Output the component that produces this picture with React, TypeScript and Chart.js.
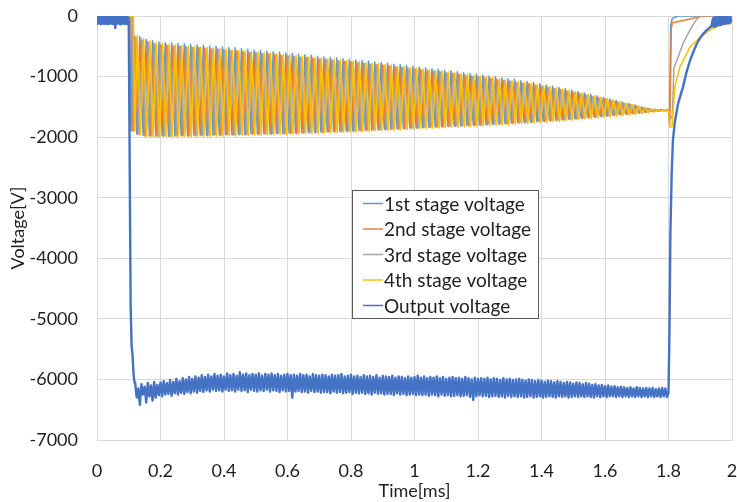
import React, { useEffect, useRef } from 'react';
import { Chart, registerables } from 'chart.js';

Chart.register(...registerables);

// ---------- labels ----------
const seriesNames = ['1st stage voltage', '2nd stage voltage', '3rd stage voltage', '4th stage voltage', 'Output voltage'];
const seriesColors = ['#5B9BD5', '#ED7D31', '#A5A5A5', '#FFC000', '#4472C4'];
const xTitle = 'Time[ms]';
const yTitle = 'Voltage[V]';
const xMin = 0, xMax = 2, xStep = 0.2;
const yMin = -7000, yMax = 0, yStep = 1000;

// ---------- stage oscillation (one peak + one trough per 0.02 ms cycle) ----------
const firstPeakT = 0.115;
const cyclePeriod = 0.02;
const stagePhase = [0, 0.004, 0.008, 0.012];
const stageStartT = [0, 0.103, 0.107];
const stageStartV = [0, 0, -1900];
const stageCutT = 1.8;

const peaks1 = [
  -300, -340, -390, -410, -430, -440, -445, -455, -460, -470,
  -480, -485, -495, -500, -510, -520, -525, -540, -550, -560,
  -570, -580, -590, -600, -610, -620, -630, -640, -650, -665,
  -675, -685, -695, -705, -715, -725, -735, -745, -760, -770,
  -780, -795, -805, -820, -830, -845, -855, -870, -880, -895,
  -905, -920, -935, -950, -960, -975, -990, -1005, -1020, -1035,
  -1050, -1070, -1085, -1100, -1120, -1140, -1160, -1180, -1200, -1225,
  -1250, -1270, -1295, -1320, -1345, -1370, -1395, -1420, -1445, -1470,
  -1500, -1525, -1540, -1545, -1550,
];
const peaks2 = [
  -330, -380, -420, -450, -470, -480, -490, -495, -505, -515,
  -520, -530, -540, -545, -555, -565, -575, -585, -595, -605,
  -615, -625, -635, -645, -655, -665, -675, -685, -695, -705,
  -715, -725, -735, -745, -755, -765, -775, -790, -800, -810,
  -820, -835, -845, -860, -870, -885, -895, -910, -920, -935,
  -945, -960, -975, -990, -1000, -1015, -1030, -1045, -1060, -1075,
  -1090, -1105, -1120, -1140, -1160, -1175, -1195, -1215, -1235, -1255,
  -1280, -1300, -1325, -1350, -1370, -1395, -1420, -1445, -1465, -1490,
  -1515, -1535, -1545, -1550, -1553,
];
const peaks3 = [
  -350, -400, -440, -465, -480, -490, -500, -505, -515, -525,
  -530, -540, -550, -555, -565, -575, -585, -595, -605, -615,
  -625, -635, -645, -655, -665, -675, -685, -695, -705, -715,
  -725, -735, -745, -755, -765, -775, -790, -800, -810, -820,
  -830, -845, -855, -870, -880, -895, -905, -920, -930, -945,
  -955, -970, -985, -1000, -1010, -1025, -1040, -1055, -1070, -1085,
  -1100, -1115, -1130, -1150, -1170, -1185, -1205, -1225, -1245, -1265,
  -1290, -1310, -1335, -1360, -1380, -1405, -1430, -1450, -1470, -1495,
  -1520, -1538, -1547, -1551, -1554,
];
const peaks4 = [
  -320, -370, -410, -440, -460, -470, -480, -490, -495, -505,
  -515, -520, -530, -540, -550, -560, -565, -575, -585, -595,
  -605, -615, -625, -635, -645, -655, -665, -675, -685, -695,
  -705, -715, -725, -735, -745, -755, -770, -780, -790, -800,
  -810, -825, -835, -850, -860, -875, -885, -900, -910, -925,
  -935, -950, -965, -980, -990, -1005, -1020, -1035, -1050, -1065,
  -1080, -1095, -1110, -1130, -1150, -1165, -1185, -1205, -1225, -1245,
  -1270, -1290, -1315, -1340, -1360, -1385, -1410, -1435, -1460, -1485,
  -1510, -1530, -1542, -1548, -1552,
];
const troughs1 = [
  -1950, -1970, -1975, -1980, -1975, -1980, -1975, -1970, -1975, -1970,
  -1965, -1970, -1960, -1965, -1955, -1960, -1950, -1955, -1945, -1950,
  -1940, -1945, -1935, -1940, -1930, -1930, -1925, -1920, -1920, -1915,
  -1910, -1905, -1905, -1900, -1895, -1890, -1885, -1880, -1875, -1870,
  -1865, -1860, -1855, -1850, -1845, -1840, -1835, -1830, -1825, -1820,
  -1815, -1810, -1805, -1800, -1795, -1790, -1785, -1780, -1775, -1765,
  -1760, -1755, -1750, -1740, -1735, -1725, -1720, -1710, -1700, -1695,
  -1685, -1675, -1665, -1655, -1645, -1635, -1625, -1615, -1605, -1595,
  -1585, -1575, -1568, -1563, -1560,
];
const troughs2 = [
  -1960, -1980, -1985, -1990, -1985, -1990, -1985, -1980, -1985, -1980,
  -1975, -1980, -1970, -1975, -1965, -1970, -1960, -1965, -1955, -1960,
  -1950, -1955, -1945, -1950, -1940, -1940, -1935, -1930, -1930, -1925,
  -1920, -1915, -1915, -1910, -1905, -1900, -1895, -1890, -1885, -1880,
  -1875, -1870, -1865, -1860, -1855, -1850, -1845, -1840, -1835, -1830,
  -1825, -1820, -1815, -1810, -1805, -1800, -1795, -1790, -1785, -1775,
  -1770, -1765, -1760, -1750, -1745, -1735, -1730, -1720, -1710, -1705,
  -1695, -1685, -1675, -1665, -1655, -1645, -1635, -1625, -1615, -1605,
  -1592, -1580, -1570, -1565, -1562,
];
const troughs3 = [
  -1945, -1965, -1970, -1975, -1970, -1975, -1970, -1965, -1970, -1965,
  -1960, -1965, -1955, -1960, -1950, -1955, -1945, -1950, -1940, -1945,
  -1935, -1940, -1930, -1935, -1925, -1925, -1920, -1915, -1915, -1910,
  -1905, -1900, -1900, -1895, -1890, -1885, -1880, -1875, -1870, -1865,
  -1860, -1855, -1850, -1845, -1840, -1835, -1830, -1825, -1820, -1815,
  -1810, -1805, -1800, -1795, -1790, -1785, -1780, -1775, -1770, -1760,
  -1755, -1750, -1745, -1735, -1730, -1720, -1715, -1705, -1695, -1690,
  -1680, -1670, -1660, -1650, -1640, -1630, -1620, -1610, -1600, -1590,
  -1580, -1572, -1566, -1562, -1559,
];
const troughs4 = [
  -1970, -1990, -1995, -2000, -1995, -2000, -1995, -1990, -1995, -1990,
  -1985, -1990, -1980, -1985, -1975, -1980, -1970, -1975, -1965, -1970,
  -1960, -1965, -1955, -1960, -1950, -1950, -1945, -1940, -1940, -1935,
  -1930, -1925, -1925, -1920, -1915, -1910, -1905, -1900, -1895, -1890,
  -1885, -1880, -1875, -1870, -1865, -1860, -1855, -1850, -1845, -1840,
  -1835, -1830, -1825, -1820, -1815, -1810, -1805, -1800, -1795, -1785,
  -1780, -1775, -1770, -1760, -1755, -1745, -1740, -1730, -1720, -1715,
  -1705, -1695, -1685, -1675, -1665, -1655, -1645, -1635, -1625, -1615,
  -1600, -1585, -1574, -1567, -1563,
];

// ---------- stage recovery after 1.8 ms ----------
const end1T = [1.8, 1.803, 1.807, 1.812, 1.83, 2];
const end1V = [-1560, -1750, -150, -40, 0, 0];
const end2T = [1.8, 1.804, 1.809, 1.812, 1.85, 1.9, 2];
const end2V = [-1560, -1800, -200, -110, -70, -10, 0];
const end3T = [1.8, 1.806, 1.812, 1.817, 1.83, 1.846, 1.868, 1.885, 1.9, 2];
const end3V = [-1560, -1700, -1650, -860, -680, -450, -230, -80, 0, 0];
const end4T = [1.8, 1.804, 1.811, 1.82, 1.836, 1.868, 1.9, 1.931, 1.962, 2];
const end4V = [-1560, -1830, -1830, -1170, -840, -510, -350, -230, -150, -115];

// ---------- output voltage ----------
const preStartT = 0, preStep = 0.005;
const preUpper = [-10, -20, -10, -15, -20, -10, -15, -10, -20, -10, -15, -20, -10, -10, -15, -20, -10, -15, -10, -20];
const preLower = [-130, -120, -135, -125, -130, -120, -135, -130, -125, -130, -135, -200, -130, -120, -135, -125, -130, -120, -135, -130];
const dropT = [0.1, 0.103, 0.106, 0.109, 0.112, 0.115, 0.118];
const dropV = [-80, -2500, -4800, -5450, -5600, -5900, -6050];
const bandStartT = 0.12, bandStep = 0.01;
const bandUpper = [
  -6050, -6150, -6080, -6120, -6060, -6100, -6040, -6090, -6050, -6030,
  -6060, -6010, -6040, -5990, -6030, -5980, -6000, -5960, -5990, -5950,
  -5970, -5930, -5960, -5920, -5950, -5910, -5940, -5920, -5950, -5900,
  -5930, -5910, -5940, -5880, -5920, -5900, -5930, -5910, -5920, -5900,
  -5940, -5910, -5920, -5900, -5930, -5910, -5940, -5920, -5910, -5930,
  -5920, -5940, -5910, -5930, -5920, -5950, -5910, -5930, -5940, -5920,
  -5930, -5950, -5920, -5940, -5930, -5910, -5950, -5940, -5920, -5950,
  -5940, -5960, -5930, -5950, -5940, -5960, -5930, -5970, -5940, -5950,
  -5960, -5940, -5970, -5950, -5960, -5980, -5950, -5970, -5960, -5940,
  -5970, -5950, -5980, -5960, -5970, -5950, -5980, -5960, -5990, -5970,
  -5960, -5980, -5970, -5990, -5960, -5980, -6000, -5970, -5990, -5980,
  -5990, -5970, -6000, -5980, -5990, -6010, -5980, -6000, -5990, -6010,
  -6000, -5990, -6010, -6020, -6000, -6010, -6030, -6010, -6020, -6040,
  -6020, -6030, -6050, -6030, -6040, -6060, -6040, -6050, -6070, -6050,
  -6060, -6080, -6060, -6070, -6090, -6080, -6100, -6090, -6110, -6100,
  -6120, -6110, -6130, -6120, -6130, -6140, -6130, -6150, -6130, -6140,
  -6150, -6140, -6150, -6140, -6160, -6150, -6140, -6150,
];
const bandLower = [
  -6300, -6420, -6250, -6380, -6280, -6350, -6300, -6260, -6280, -6250,
  -6240, -6270, -6230, -6250, -6220, -6240, -6210, -6230, -6200, -6220,
  -6190, -6210, -6180, -6200, -6170, -6190, -6180, -6200, -6170, -6190,
  -6180, -6200, -6170, -6190, -6180, -6210, -6170, -6190, -6200, -6180,
  -6190, -6170, -6200, -6180, -6190, -6210, -6180, -6200, -6190, -6300,
  -6200, -6190, -6210, -6200, -6220, -6190, -6210, -6200, -6220, -6210,
  -6210, -6230, -6200, -6220, -6210, -6230, -6220, -6210, -6240, -6220,
  -6230, -6220, -6240, -6230, -6250, -6220, -6240, -6230, -6250, -6240,
  -6240, -6260, -6230, -6250, -6240, -6260, -6250, -6240, -6260, -6250,
  -6260, -6250, -6270, -6250, -6260, -6280, -6250, -6270, -6260, -6280,
  -6270, -6260, -6280, -6270, -6260, -6290, -6340, -6280, -6260, -6280,
  -6270, -6290, -6280, -6270, -6290, -6280, -6300, -6270, -6290, -6280,
  -6290, -6280, -6300, -6290, -6280, -6300, -6290, -6280, -6300, -6290,
  -6280, -6290, -6300, -6280, -6290, -6280, -6300, -6290, -6280, -6290,
  -6280, -6290, -6280, -6290, -6300, -6280, -6290, -6280, -6290, -6280,
  -6280, -6290, -6280, -6290, -6280, -6290, -6280, -6290, -6280, -6290,
  -6280, -6290, -6280, -6290, -6280, -6290, -6280, -6290,
];
const riseT = [1.8, 1.803, 1.806, 1.81, 1.814, 1.82, 1.83, 1.84, 1.846, 1.855, 1.868, 1.88, 1.89, 1.9, 1.91, 1.921, 1.935];
const riseV = [-6220, -5200, -3600, -2600, -2050, -1750, -1450, -1270, -1170, -960, -730, -570, -450, -360, -290, -230, -170];
const postStartT = 1.94, postStep = 0.005;
const postUpper = [-40, -20, -30, -10, -20, -15, -10, -20, -10, -15, -10, -20];
const postLower = [-180, -170, -160, -150, -150, -140, -130, -130, -120, -120, -115, -110];

type Pt = { x: number; y: number };

function buildStage(peaks: number[], troughs: number[], phase: number, endT: number[], endV: number[]): Pt[] {
  const pts: Pt[] = [];
  stageStartT.forEach((t, i) => pts.push({ x: i === 0 ? t : t + phase, y: stageStartV[i] }));
  peaks.forEach((p, k) => {
    const tp = firstPeakT + k * cyclePeriod + phase;
    if (tp < stageCutT) pts.push({ x: tp, y: p });
    const tt = tp + cyclePeriod / 2;
    if (tt < stageCutT) pts.push({ x: tt, y: troughs[k] });
  });
  endT.forEach((t, i) => pts.push({ x: t, y: endV[i] }));
  return pts;
}

function buildBand(start: number, step: number, up: number[], lo: number[]): Pt[] {
  const pts: Pt[] = [];
  up.forEach((u, i) => {
    pts.push({ x: start + i * step, y: u });
    pts.push({ x: start + i * step + step / 2, y: lo[i] });
  });
  return pts;
}

function buildOutput(): Pt[] {
  const pts: Pt[] = [];
  pts.push(...buildBand(preStartT, preStep, preUpper, preLower));
  dropT.forEach((t, i) => pts.push({ x: t, y: dropV[i] }));
  pts.push(...buildBand(bandStartT, bandStep, bandUpper, bandLower));
  riseT.forEach((t, i) => pts.push({ x: t, y: riseV[i] }));
  pts.push(...buildBand(postStartT, postStep, postUpper, postLower));
  return pts;
}

const FONT = 'Lato, "Open Sans", sans-serif';
const TEXT = '#1f1f1f';
const GRID = '#d9d9d9';

const boxLegend = {
  id: 'boxLegend',
  afterDatasetsDraw(chart: any) {
    const { ctx, chartArea } = chart;
    const x0 = chartArea.left + 255;
    const y0 = chartArea.top + 174;
    const w = 186;
    const h = 128;
    ctx.save();
    ctx.fillStyle = '#ffffff';
    ctx.fillRect(x0, y0, w, h);
    ctx.strokeStyle = '#595959';
    ctx.lineWidth = 1;
    ctx.strokeRect(x0 + 0.5, y0 + 0.5, w, h);
    ctx.font = `19px ${FONT}`;
    ctx.textBaseline = 'middle';
    ctx.textAlign = 'left';
    seriesNames.forEach((name, i) => {
      const cy = y0 + 13.5 + i * 25.5;
      ctx.strokeStyle = seriesColors[i];
      ctx.lineWidth = 1.5;
      ctx.beginPath();
      ctx.moveTo(x0 + 11, cy);
      ctx.lineTo(x0 + 31, cy);
      ctx.stroke();
      ctx.fillStyle = TEXT;
      ctx.fillText(name, x0 + 32, cy + 1);
    });
    ctx.restore();
  },
};

export default function App() {
  const ref = useRef<HTMLCanvasElement | null>(null);
  useEffect(() => {
    document.body.style.margin = '0';
    const canvas = ref.current;
    if (!canvas) return;
    const stages = [
      buildStage(peaks1, troughs1, stagePhase[0], end1T, end1V),
      buildStage(peaks2, troughs2, stagePhase[1], end2T, end2V),
      buildStage(peaks3, troughs3, stagePhase[2], end3T, end3V),
      buildStage(peaks4, troughs4, stagePhase[3], end4T, end4V),
    ];
    const output = buildOutput();
    const all = [...stages, output];
    const chart = new Chart(canvas, {
      type: 'line',
      data: {
        datasets: all.map((d, i) => ({
          label: seriesNames[i],
          data: d,
          borderColor: seriesColors[i],
          backgroundColor: seriesColors[i],
          borderWidth: i === 4 ? 2.4 : 1.5,
          borderJoinStyle: 'round',
          pointRadius: 0,
          tension: 0,
          fill: false,
          order: 4 - i,
        })),
      },
      options: {
        animation: false,
        responsive: false,
        maintainAspectRatio: false,
        parsing: false,
        normalized: true,
        layout: { padding: { top: 16, right: 0, left: 0, bottom: 0 } },
        plugins: { legend: { display: false }, tooltip: { enabled: false } },
        scales: {
          x: {
            type: 'linear',
            min: xMin,
            max: xMax,
            ticks: {
              stepSize: xStep,
              padding: 20,
              color: TEXT,
              font: { family: FONT, size: 18 },
              maxRotation: 0,
              autoSkip: false,
              callback: (v: any) => String(Number(Number(v).toFixed(1))),
            },
            grid: { color: GRID, drawTicks: false, lineWidth: 1 },
            border: { color: GRID, width: 1 },
            title: { display: true, text: xTitle, color: TEXT, font: { family: FONT, size: 18 }, padding: { top: 0, bottom: 0 } },
            afterFit: (s: any) => { s.height = 62; s.paddingLeft = 0; s.paddingRight = 5; },
          },
          y: {
            min: yMin,
            max: yMax,
            ticks: {
              stepSize: yStep,
              padding: 19,
              color: TEXT,
              font: { family: FONT, size: 18 },
              callback: (v: any) => String(Math.round(Number(v))),
            },
            grid: { color: GRID, drawTicks: false, lineWidth: 1 },
            border: { color: GRID, width: 1 },
            title: { display: true, text: yTitle, color: TEXT, font: { family: FONT, size: 18 }, padding: { top: 7, bottom: 0 } },
            afterFit: (s: any) => { s.width = 97; s.paddingTop = 0; s.paddingBottom = 0; },
          },
        },
      },
      plugins: [boxLegend],
    } as any);
    return () => chart.destroy();
  }, []);
  return <canvas ref={ref} width={737} height={502} style={{ display: 'block' }} />;
}
